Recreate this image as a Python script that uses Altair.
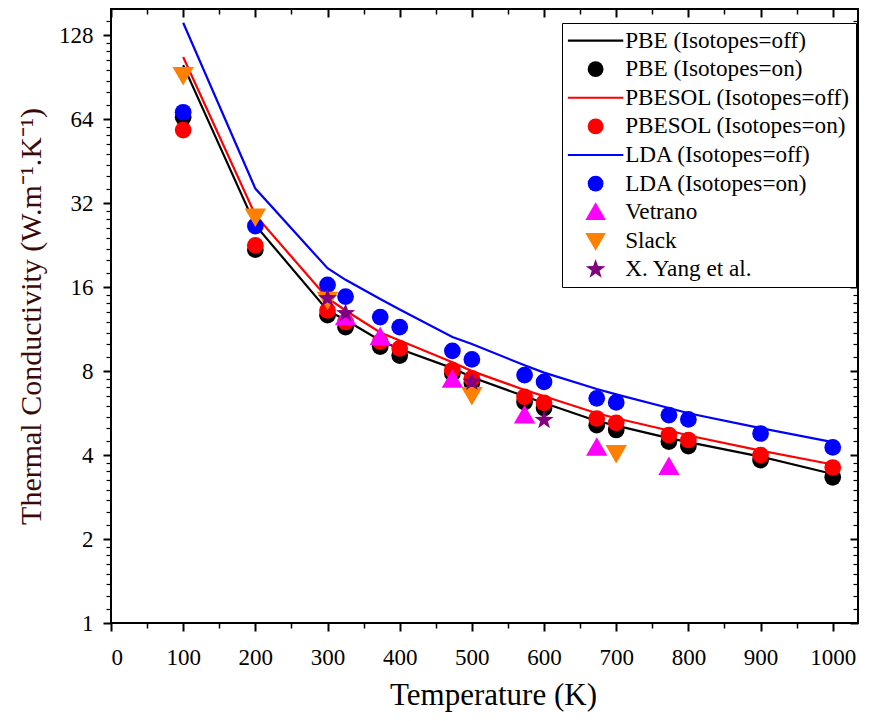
import altair as alt
import pandas as pd

temps = [100, 200, 300, 325, 373, 400, 473, 500, 573, 600, 673, 700, 773, 800, 900, 1000]
pbe_off = [100, 26.7, 13.2, 12.2, 10.3, 9.6, 8.2, 7.6, 6.5, 6.15, 5.3, 5.1, 4.6, 4.45, 3.95, 3.42]
pbesol_off = [107, 29.0, 14.6, 13.2, 11.0, 10.3, 8.6, 8.0, 6.85, 6.5, 5.65, 5.42, 4.9, 4.7, 4.15, 3.7]
lda_off = [142, 36.1, 18.7, 17.0, 14.5, 13.3, 10.6, 10.0, 8.4, 7.9, 6.9, 6.6, 5.9, 5.65, 5.0, 4.45]
pbe_on = [65, 21.8, 12.7, 11.5, 9.8, 9.1, 7.85, 7.25, 6.2, 5.9, 5.12, 4.92, 4.47, 4.31, 3.84, 3.33]
pbesol_on = [58.5, 22.6, 13.2, 12.0, 10.2, 9.65, 8.07, 7.53, 6.47, 6.16, 5.41, 5.22, 4.72, 4.53, 4.0, 3.61]
lda_on = [67.8, 26.5, 16.3, 14.8, 12.5, 11.5, 9.46, 8.81, 7.74, 7.32, 6.39, 6.18, 5.56, 5.37, 4.78, 4.26]
vetrano_T = [325, 373, 473, 573, 673, 773]
vetrano_k = [12.5, 10.6, 7.47, 5.56, 4.26, 3.63]
slack_T = [100, 200, 300, 500, 700]
slack_k = [92, 28.6, 14.4, 6.56, 4.06]
yang_T = [300, 325, 500, 600]
yang_k = [14.6, 12.9, 7.32, 5.34]

labels = ["PBE (Isotopes=off)", "PBE (Isotopes=on)", "PBESOL (Isotopes=off)",
          "PBESOL (Isotopes=on)", "LDA (Isotopes=off)", "LDA (Isotopes=on)",
          "Vetrano", "Slack", "X. Yang et al."]
colors = ["#000000", "#000000", "#ff0000", "#ff0000", "#0000ff", "#0000ff",
          "#ff00ff", "#ff8000", "#800080"]
LINE = "M-3.5,-0.13L3.5,-0.13L3.5,0.13L-3.5,0.13Z"
STAR = ("M0,-1.3L0.306,-0.421L1.236,-0.402L0.494,0.161L0.764,1.052L0,0.52"
        "L-0.764,1.052L-0.494,0.161L-1.236,-0.402L-0.306,-0.421Z")
TRI_UP = "M0,-1.25L1.3,1L-1.3,1Z"
TRI_DOWN = "M0,1.25L1.3,-1L-1.3,-1Z"
shapes = [LINE, "circle", LINE, "circle", LINE, "circle", TRI_UP, TRI_DOWN, STAR]
sizes = {"circle": 280, TRI_UP: 270, TRI_DOWN: 270, STAR: 240}

x_major = list(range(0, 1001, 100))
x_minor = list(range(50, 1001, 100))
y_major = [1, 2, 4, 8, 16, 32, 64, 128]
y_minor = [round(m * (1 + k / 8), 4) for m in y_major for k in range(1, 8) if m * (1 + k / 8) <= 159]

line_rows = []
for name, vals in [(labels[0], pbe_off), (labels[2], pbesol_off), (labels[4], lda_off)]:
    for t, v in zip(temps, vals):
        line_rows.append({"T": t, "k": v, "series": name})
lines_df = pd.DataFrame(line_rows)

pt_rows = []
for name, tt, vals in [(labels[1], temps, pbe_on), (labels[3], temps, pbesol_on),
                       (labels[5], temps, lda_on), (labels[6], vetrano_T, vetrano_k),
                       (labels[7], slack_T, slack_k), (labels[8], yang_T, yang_k)]:
    shp = shapes[labels.index(name)]
    for t, v in zip(tt, vals):
        pt_rows.append({"T": t, "k": v, "series": name, "sz": sizes[shp]})
pts_df = pd.DataFrame(pt_rows)
pts_df["ord"] = range(len(pts_df))

FONT = "Liberation Serif"
xscale = alt.Scale(domain=[0, 1035], nice=False, zero=False)
yscale = alt.Scale(type="log", base=2, domain=[1, 159], nice=False)
cscale = alt.Scale(domain=labels, range=colors)
sscale = alt.Scale(domain=labels, range=shapes)

def xax(**kw):
    base = dict(domain=False, grid=False, tickColor="black")
    base.update(kw)
    return alt.Axis(**base)

lines = alt.Chart(lines_df).mark_line(strokeWidth=2.2).encode(
    x=alt.X("T:Q", scale=xscale, axis=xax(
        orient="bottom", values=x_major, tickSize=8, tickWidth=2,
        labelFont=FONT, labelFontSize=23, labelColor="black", labelPadding=15,
        title="Temperature (K)", titleFont=FONT, titleFontSize=31, titleX=382,
        titleFontWeight="normal", titleColor="black", titlePadding=11, format="d")),
    y=alt.Y("k:Q", scale=yscale, axis=xax(
        orient="left", values=y_major, tickSize=8, tickWidth=2,
        labelFont=FONT, labelFontSize=23, labelColor="black", labelPadding=10,
        title="Thermal Conductivity (W.m⁻¹.K⁻¹)", titleFont=FONT, titleFontSize=30,
        titleFontWeight="normal", titleColor="#3a0a0a", titlePadding=12, format="d")),
    color=alt.Color("series:N", scale=cscale, title=None),
)

points = alt.Chart(pts_df).mark_point(filled=True, opacity=1).encode(
    x=alt.X("T:Q", scale=xscale, axis=xax(
        orient="bottom", values=x_minor, tickSize=5, tickWidth=1.5,
        labels=False, title=None)),
    y=alt.Y("k:Q", scale=yscale, axis=xax(
        orient="left", values=y_minor, tickSize=5, tickWidth=1.2,
        labels=False, title=None)),
    color=alt.Color("series:N", scale=cscale, title=None),
    shape=alt.Shape("series:N", scale=sscale, title=None),
    size=alt.Size("sz:Q", scale=None, legend=None),
    order=alt.Order("ord:Q"),
)

frame_major = alt.Chart(pts_df).mark_point(opacity=0).encode(
    x=alt.X("T:Q", scale=xscale, axis=xax(
        orient="top", values=x_major, tickSize=8, tickWidth=2, offset=-8,
        labels=False, title=None)),
    y=alt.Y("k:Q", scale=yscale, axis=xax(
        orient="right", values=y_major, tickSize=8, tickWidth=2, offset=-8,
        labels=False, title=None)),
)

frame_minor = alt.Chart(pts_df).mark_point(opacity=0).encode(
    x=alt.X("T:Q", scale=xscale, axis=xax(
        orient="top", values=x_minor, tickSize=5, tickWidth=1.5, offset=-5,
        labels=False, title=None)),
    y=alt.Y("k:Q", scale=yscale, axis=xax(
        orient="right", values=y_minor, tickSize=5, tickWidth=1.2, offset=-5,
        labels=False, title=None)),
)

chart = alt.layer(lines, points, frame_major, frame_minor).resolve_axis(
    x="independent", y="independent"
).properties(
    width=747, height=614,
    autosize=alt.AutoSizeParams(type="none"),
    padding={"left": 103, "top": 1, "right": 5, "bottom": 90},
).configure_view(
    stroke="black", strokeWidth=2
).configure_legend(
    orient="none", legendX=451, legendY=14,
    strokeColor="black", fillColor="white", padding=6,
    labelFont=FONT, labelFontSize=23.2, labelColor="black", labelLimit=400,
    symbolSize=250, symbolOffset=16, labelOffset=18, rowPadding=4.6,
    symbolStrokeWidth=0,
)

chart.save("out.html", embed_options={"renderer": "svg", "actions": False})
